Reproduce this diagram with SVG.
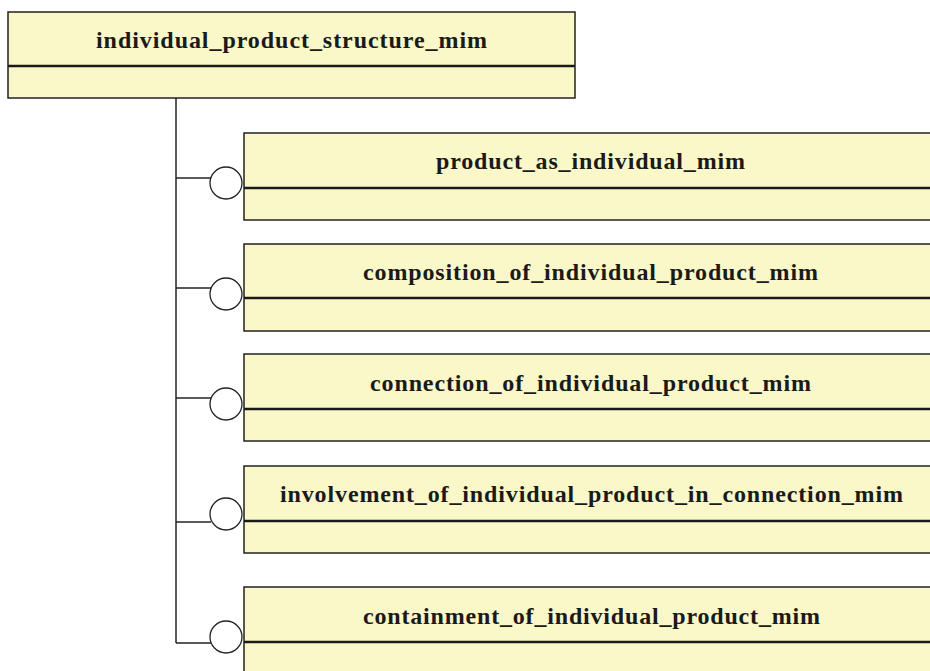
<svg xmlns="http://www.w3.org/2000/svg" width="930" height="671" viewBox="0 0 930 671">
<style>
.box{fill:#FAF7C9;stroke:#222;stroke-width:1.5}
.div{stroke:#1a1a1a;stroke-width:2.5}
.lbl{font-family:"Liberation Serif",serif;font-weight:bold;font-size:24px;fill:#1a1a1a;text-anchor:middle}
.con{stroke:#222;stroke-width:1.5;fill:none}
.ball{fill:#fff;stroke:#222;stroke-width:1.3}
</style>
<rect width="930" height="671" fill="#fff"/>
<g id="individual_product_structure_mim">
<rect class="box" x="8" y="12" width="567" height="86"/>
<line class="div" x1="8" y1="66" x2="575" y2="66" stroke-width="3"/>
<text class="lbl" x="291.5" y="48" textLength="391">individual_product_structure_mim</text>
</g>
<g id="connectors">
<line class="con" x1="176" y1="98" x2="176" y2="643"/>
<line class="con" x1="176" y1="178" x2="211" y2="178"/>
<line class="con" x1="176" y1="288" x2="211" y2="288"/>
<line class="con" x1="176" y1="398" x2="211" y2="398"/>
<line class="con" x1="176" y1="522" x2="211" y2="522"/>
<line class="con" x1="176" y1="643" x2="211" y2="643"/>
<circle class="ball" cx="226" cy="183" r="16"/>
<circle class="ball" cx="226" cy="294" r="16"/>
<circle class="ball" cx="226" cy="404" r="16"/>
<circle class="ball" cx="226" cy="514" r="16"/>
<circle class="ball" cx="226" cy="637" r="16"/>
</g>
<g id="product_as_individual_mim">
<rect class="box" x="244" y="133" width="700" height="87"/>
<line class="div" x1="244" y1="188" x2="944" y2="188" stroke-width="2"/>
<text class="lbl" x="590.5" y="169" textLength="309">product_as_individual_mim</text>
</g>
<g id="composition_of_individual_product_mim">
<rect class="box" x="244" y="244" width="700" height="87"/>
<line class="div" x1="244" y1="298" x2="944" y2="298" stroke-width="2"/>
<text class="lbl" x="590.5" y="280" textLength="455">composition_of_individual_product_mim</text>
</g>
<g id="connection_of_individual_product_mim">
<rect class="box" x="244" y="354" width="700" height="87"/>
<line class="div" x1="244" y1="409" x2="944" y2="409"/>
<text class="lbl" x="590.5" y="391" textLength="441">connection_of_individual_product_mim</text>
</g>
<g id="involvement_of_individual_product_in_connection_mim">
<rect class="box" x="244" y="466" width="700" height="87"/>
<line class="div" x1="244" y1="521" x2="944" y2="521"/>
<text class="lbl" x="591.5" y="502" textLength="623">involvement_of_individual_product_in_connection_mim</text>
</g>
<g id="containment_of_individual_product_mim">
<rect class="box" x="244" y="587" width="700" height="100"/>
<line class="div" x1="244" y1="642" x2="944" y2="642"/>
<text class="lbl" x="591.5" y="624" textLength="457">containment_of_individual_product_mim</text>
</g>
</svg>
